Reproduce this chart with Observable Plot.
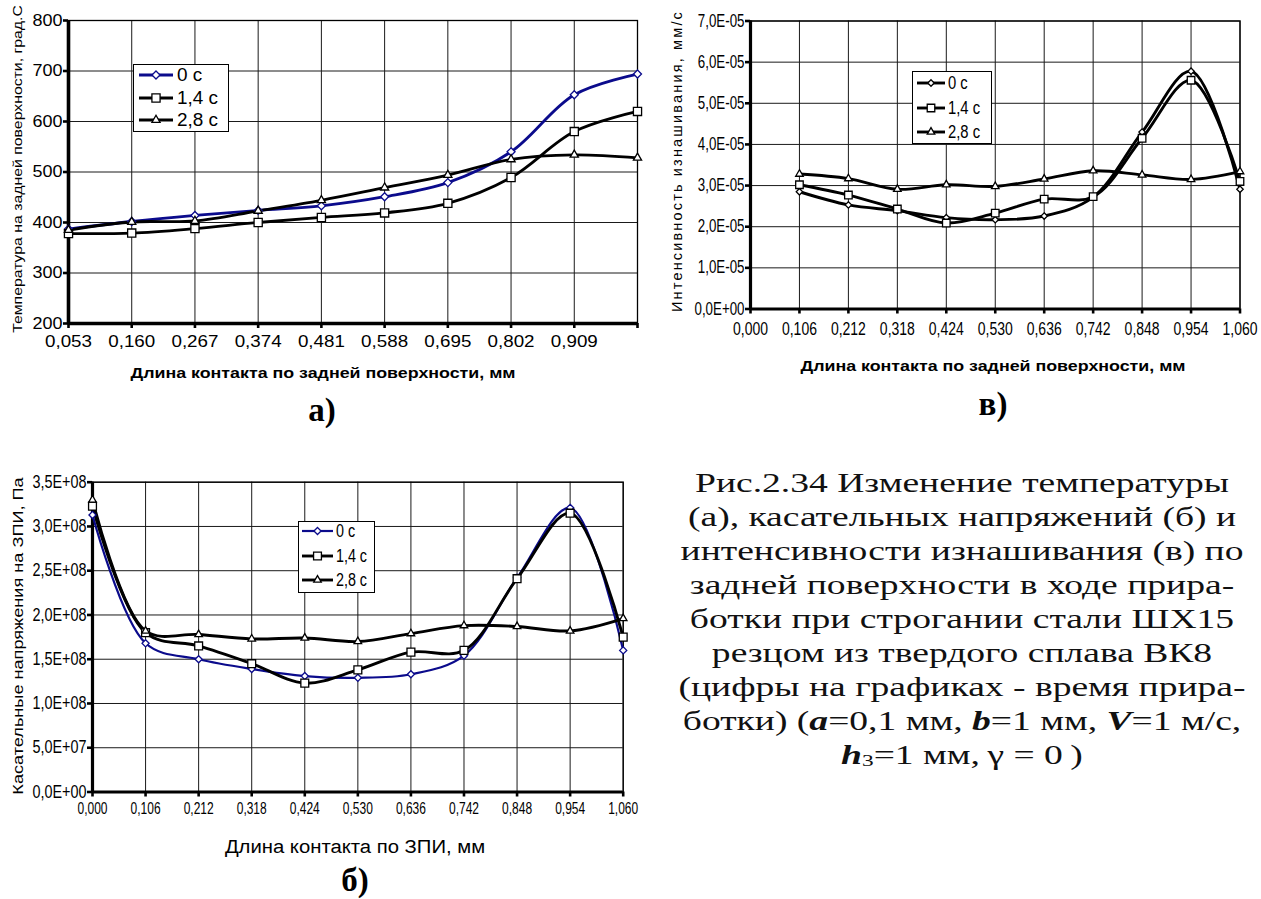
<!DOCTYPE html>
<html><head><meta charset="utf-8">
<script src="https://cdn.jsdelivr.net/npm/d3@7"></script>
<script src="https://cdn.jsdelivr.net/npm/@observablehq/plot@0.6"></script>
<style>
html,body{margin:0;padding:0;background:#fff;overflow:hidden;}
#page{position:relative;width:1261px;height:899px;overflow:hidden;background:#fff;color:#000;}
.abs{position:absolute;white-space:nowrap;line-height:1;}
.plot{position:absolute;overflow:visible;}
.legbox{position:absolute;border:1px solid #000;background:#fff;box-sizing:border-box;}
</style></head><body><div id="page"></div>
<script>
// ---------------- DATA ----------------
const seriesNames = ["0 с", "1,4 с", "2,8 с"];

// (а) temperature on the flank surface
const xCatA = [0.053, 0.160, 0.267, 0.374, 0.481, 0.588, 0.695, 0.802, 0.909, 1.016];
const xTickLabelA = ["0,053","0,160","0,267","0,374","0,481","0,588","0,695","0,802","0,909",""];
const yTickA = [200, 300, 400, 500, 600, 700, 800];
const yTickLabelA = ["200","300","400","500","600","700","800"];
const tempA_0  = [387, 402, 414, 424, 433, 451, 479, 540, 653, 694];
const tempA_14 = [378, 379, 388, 400, 410, 419, 438, 489, 580, 620];
const tempA_28 = [385, 401, 403, 423, 444, 469, 494, 525, 534, 528];

// common x ticks for (в) and (б)
const xTickB = [0.000, 0.106, 0.212, 0.318, 0.424, 0.530, 0.636, 0.742, 0.848, 0.954, 1.060];
const xTickLabelB = ["0,000","0,106","0,212","0,318","0,424","0,530","0,636","0,742","0,848","0,954","1,060"];

// (в) wear intensity
const xPtsV = [0.106, 0.212, 0.318, 0.424, 0.530, 0.636, 0.742, 0.848, 0.954, 1.060];
const yTickV = [0, 1e-5, 2e-5, 3e-5, 4e-5, 5e-5, 6e-5, 7e-5];
const yTickLabelV = ["0,0E+00","1,0E-05","2,0E-05","3,0E-05","4,0E-05","5,0E-05","6,0E-05","7,0E-05"];
const wearV_0  = [2.85e-5, 2.53e-5, 2.39e-5, 2.22e-5, 2.17e-5, 2.26e-5, 2.72e-5, 4.30e-5, 5.78e-5, 2.91e-5];
const wearV_14 = [3.02e-5, 2.77e-5, 2.43e-5, 2.09e-5, 2.33e-5, 2.67e-5, 2.73e-5, 4.15e-5, 5.56e-5, 3.10e-5];
const wearV_28 = [3.28e-5, 3.17e-5, 2.91e-5, 3.02e-5, 2.98e-5, 3.16e-5, 3.36e-5, 3.26e-5, 3.15e-5, 3.34e-5];

// (б) shear stress
const xPtsS = [0.000, 0.106, 0.212, 0.318, 0.424, 0.530, 0.636, 0.742, 0.848, 0.954, 1.060];
const yTickS = [0, 5e7, 1e8, 1.5e8, 2e8, 2.5e8, 3e8, 3.5e8];
const yTickLabelS = ["0,0E+00","5,0E+07","1,0E+08","1,5E+08","2,0E+08","2,5E+08","3,0E+08","3,5E+08"];
const stressS_0  = [3.13e8, 1.68e8, 1.50e8, 1.39e8, 1.31e8, 1.29e8, 1.33e8, 1.54e8, 2.42e8, 3.21e8, 1.60e8];
const stressS_14 = [3.23e8, 1.80e8, 1.65e8, 1.45e8, 1.23e8, 1.38e8, 1.58e8, 1.60e8, 2.41e8, 3.15e8, 1.75e8];
const stressS_28 = [3.30e8, 1.82e8, 1.78e8, 1.73e8, 1.74e8, 1.70e8, 1.79e8, 1.88e8, 1.87e8, 1.82e8, 1.96e8];

const captionLines = [
  "Рис.2.34 Изменение температуры",
  "(а), касательных напряжений (б) и",
  "интенсивности изнашивания (в) по",
  "задней поверхности в ходе прира-",
  "ботки при строгании стали ШХ15",
  "резцом из твердого сплава ВК8",
  "(цифры на графиках - время прира-",
  "ботки) (<b><i>a</i></b>=0,1 мм, <b><i>b</i></b>=1 мм, <b><i>V</i></b>=1 м/с,",
  "<b><i>h</i></b><sub style=\"font-size:0.62em;vertical-align:-0.15em\">3</sub>=1 мм,\u2009γ\u00a0=\u00a00\u2009)"
];

// ---------------- HELPERS ----------------
const page = document.getElementById("page");
const cv = document.createElement("canvas").getContext("2d");
function has(fam) {
  const s = "Рис.2.34 Abcdefg 0,123 Изменение";
  cv.font = `20px "${fam}", monospace`; const a = cv.measureText(s).width;
  cv.font = `20px monospace`; const b = cv.measureText(s).width;
  return Math.abs(a - b) > 0.5;
}
const SANS = '"Liberation Sans", Arial, sans-serif';
const NARROW = has("Liberation Sans Narrow") ? '"Liberation Sans Narrow", sans-serif' : SANS;
const SERIF = has("Liberation Serif") ? '"Liberation Serif", serif'
  : (has("DejaVu Serif Condensed") ? '"DejaVu Serif Condensed", serif' : '"DejaVu Serif", serif');
const BLUE = "#0b0b8c";

function addText(html, o) {
  const d = document.createElement("div");
  d.className = "abs";
  d.innerHTML = html;
  d.style.fontFamily = o.family || SANS;
  d.style.fontSize = o.size + "px";
  d.style.fontWeight = o.weight || "normal";
  d.style.left = o.x + "px";
  d.style.top = o.y + "px";
  if (o.color) d.style.color = o.color;
  page.appendChild(d);
  let k = o.k || 1;
  if (o.letterFit) {
    const n = d.textContent.length;
    d.style.letterSpacing = ((o.width - d.offsetWidth) / n) + "px";
  } else if (o.width) {
    k = o.width / d.offsetWidth;
  }
  d.style.transform = `translate(-50%,-50%)${o.rotate ? " rotate(-90deg)" : ""} scaleX(${k})`;
  return k;
}

// set an explicit size on tick labels, then fit their length to the reference width
function stretch(svg, sel, refWidth, size, family) {
  const ts = [...svg.querySelectorAll(sel)];
  if (!ts.length) return;
  ts.forEach(t => { t.style.fontSize = size + "px"; t.style.fontFamily = family; });
  const ref = ts.find(t => t.textContent.length > 0);
  const k = refWidth / ref.getComputedTextLength();
  ts.forEach(t => {
    const L = t.getComputedTextLength();
    if (L > 0) { t.setAttribute("textLength", (L * k).toFixed(2)); t.setAttribute("lengthAdjust", "spacingAndGlyphs"); }
  });
}

const SYM = {"diamond2": d3.symbolDiamond2, "square2": d3.symbolSquare2, "triangle2": d3.symbolTriangle2};

function drawChart(o) {
  const data = [];
  o.series.forEach((s, i) => s.values.forEach((v, j) => data.push({x: o.x[j], y: v, s: i})));
  const xLab = new Map(o.xTicks.map((t, i) => [t, o.xLabels[i]]));
  const yLab = new Map(o.yTicks.map((t, i) => [t, o.yLabels[i]]));
  const marks = [
    Plot.gridX({ticks: o.xTicks, stroke: "#1a1a1a", strokeOpacity: 1, strokeWidth: 1}),
    Plot.gridY({ticks: o.yTicks, stroke: "#1a1a1a", strokeOpacity: 1, strokeWidth: 1}),
    Plot.frame({stroke: "#000", strokeWidth: 1.3}),
    Plot.ruleX([o.xDomain[0]], {stroke: "#000", strokeWidth: o.axisW}),
    Plot.ruleY([o.yDomain[0]], {stroke: "#000", strokeWidth: o.axisW}),
    Plot.axisX({ticks: o.xTicks, label: null, tickSize: 5, tickPadding: o.xPad, strokeWidth: 2.6,
      tickFormat: d => xLab.get(d), fontSize: o.xFont}),
    Plot.axisY({ticks: o.yTicks, label: null, tickSize: 5, tickPadding: o.yPad, strokeWidth: 2.6,
      tickFormat: d => yLab.get(d), fontSize: o.yFont})
  ];
  o.series.forEach((s, i) => {
    marks.push(Plot.line(data, {filter: d => d.s === i, x: "x", y: "y", stroke: s.color,
      strokeWidth: s.width, curve: "catmull-rom"}));
  });
  o.series.forEach((s, i) => {
    marks.push(Plot.dot(data, {filter: d => d.s === i, x: "x", y: "y", symbol: s.symbol, r: s.r,
      fill: "#fff", stroke: s.color, strokeWidth: 1.3}));
  });
  const svg = Plot.plot({
    width: o.width, height: o.height,
    marginLeft: o.ml, marginRight: o.mr, marginTop: o.mt, marginBottom: o.mb,
    x: {type: "linear", domain: o.xDomain, label: null},
    y: {type: "linear", domain: o.yDomain, label: null},
    style: {background: "transparent", color: "#000", overflow: "visible", fontFamily: o.font},
    marks
  });
  svg.classList.add("plot");
  svg.style.left = o.left + "px";
  svg.style.top = o.top + "px";
  page.appendChild(svg);
  stretch(svg, 'g[aria-label="x-axis tick label"] text', o.xRefW, o.xFont, o.font);
  stretch(svg, 'g[aria-label="y-axis tick label"] text', o.yRefW, o.yFont, o.font);
  return svg;
}

function addLegend(o) {
  const b = document.createElement("div");
  b.className = "legbox";
  Object.assign(b.style, {left: o.x0 + "px", top: o.y0 + "px", width: (o.x1 - o.x0) + "px", height: (o.y1 - o.y0) + "px"});
  page.appendChild(b);
  const texts = [];
  o.series.forEach((s, i) => {
    const cy = o.rows[i];
    const sv = d3.create("svg").attr("width", o.lineLen).attr("height", 16)
      .style("position", "absolute").style("left", o.lineX + "px").style("top", (cy - 8) + "px").style("overflow", "visible");
    sv.append("line").attr("x1", 0).attr("x2", o.lineLen).attr("y1", 8).attr("y2", 8)
      .attr("stroke", s.color).attr("stroke-width", s.width);
    sv.append("path").attr("transform", `translate(${o.lineLen / 2},8)`)
      .attr("d", d3.symbol().type(SYM[s.symbol]).size(Math.PI * s.r * s.r)())
      .attr("fill", "#fff").attr("stroke", s.color).attr("stroke-width", 1.3);
    page.appendChild(sv.node());
    const d = document.createElement("div");
    d.className = "abs";
    d.textContent = seriesNames[i];
    Object.assign(d.style, {fontFamily: o.font, fontSize: o.size + "px", left: o.textX + "px", top: cy + "px"});
    page.appendChild(d);
    texts.push(d);
  });
  const k = o.refW / texts[1].offsetWidth;
  texts.forEach(d => {
    d.style.transformOrigin = "0 50%";
    d.style.transform = `translateY(-50%) scaleX(${k})`;
  });
}

// ---------------- CHART (а) ----------------
const seriesA = [
  {values: tempA_0,  color: BLUE,   width: 2.8, symbol: "diamond2",  r: 3.6},
  {values: tempA_14, color: "#000", width: 2.8, symbol: "square2",   r: 5.2},
  {values: tempA_28, color: "#000", width: 2.8, symbol: "triangle2", r: 3.9}
];
drawChart({
  left: 0, top: 0, width: 650, height: 360, ml: 68, mr: 13, mt: 20, mb: 37,
  x: xCatA, xDomain: [0.053, 1.016], xTicks: xCatA, xLabels: xTickLabelA,
  yDomain: [200, 800], yTicks: yTickA, yLabels: yTickLabelA,
  series: seriesA, axisW: 3.6, xPad: 6, yPad: 1, xFont: 17, yFont: 17, font: SANS,
  xRefW: 47, yRefW: 30
});
addLegend({x0: 133, y0: 64, x1: 229, y1: 132, rows: [75, 97.5, 120], lineX: 139, lineLen: 34,
  textX: 177, size: 18, font: SANS, refW: 41, series: seriesA});
addText("Температура на задней поверхности, град.С", {x: 18, y: 169, size: 13.5, rotate: true, width: 328});
addText("Длина контакта по задней поверхности, мм", {x: 323, y: 373, size: 15.5, weight: "bold", width: 385});
addText("а)", {x: 322, y: 410, size: 33, weight: "bold", family: SERIF, k: 1.0});

// ---------------- CHART (в) ----------------
const seriesV = [
  {values: wearV_0,  color: "#000", width: 2.9, symbol: "diamond2",  r: 2.9},
  {values: wearV_14, color: "#000", width: 2.9, symbol: "square2",   r: 4.8},
  {values: wearV_28, color: "#000", width: 2.9, symbol: "triangle2", r: 3.6}
];
drawChart({
  left: 620, top: 0, width: 641, height: 350, ml: 130, mr: 21.5, mt: 20.5, mb: 41.5,
  x: xPtsV, xDomain: [0, 1.06], xTicks: xTickB, xLabels: xTickLabelB,
  yDomain: [0, 7e-5], yTicks: yTickV, yLabels: yTickLabelV,
  series: seriesV, axisW: 3.2, xPad: 9, yPad: 1, xFont: 17.5, yFont: 17.5, font: NARROW,
  xRefW: 35, yRefW: 50
});
addLegend({x0: 912, y0: 71, x1: 992, y1: 144, rows: [83, 108, 132], lineX: 917, lineLen: 28,
  textX: 948, size: 18, font: NARROW, refW: 32, series: seriesV});
addText("Интенсивность изнашивания, мм/с", {x: 677, y: 161, size: 14.5, rotate: true, width: 302, letterFit: true});
addText("Длина контакта по задней поверхности, мм", {x: 993, y: 366, size: 15.5, weight: "bold", width: 385});
addText("в)", {x: 993, y: 404, size: 33, weight: "bold", family: SERIF, k: 1.0});

// ---------------- CHART (б) ----------------
const seriesS = [
  {values: stressS_0,  color: BLUE,   width: 2.2, symbol: "diamond2",  r: 3.2},
  {values: stressS_14, color: "#000", width: 2.9, symbol: "square2",   r: 5.0},
  {values: stressS_28, color: "#000", width: 2.9, symbol: "triangle2", r: 3.6}
];
drawChart({
  left: 0, top: 440, width: 650, height: 390, ml: 92, mr: 27.3, mt: 41.7, mb: 38.5,
  x: xPtsS, xDomain: [0, 1.06], xTicks: xTickB, xLabels: xTickLabelB,
  yDomain: [0, 3.5e8], yTicks: yTickS, yLabels: yTickLabelS,
  series: seriesS, axisW: 3.2, xPad: 5, yPad: 1, xFont: 17, yFont: 17.5, font: NARROW,
  xRefW: 30, yRefW: 54
});
addLegend({x0: 298, y0: 521, x1: 375, y1: 593, rows: [531, 556, 580], lineX: 302, lineLen: 31,
  textX: 336, size: 18, font: NARROW, refW: 31, series: seriesS});
addText("Касательные напряжения на ЗПИ, Па", {x: 18, y: 636, size: 15.5, rotate: true, width: 317});
addText("Длина контакта по ЗПИ, мм", {x: 355, y: 847, size: 18, width: 260});
addText("б)", {x: 355, y: 880, size: 33, weight: "bold", family: SERIF, k: 1.0});

// ---------------- CAPTION ----------------
let kc = null;
captionLines.forEach((ln, i) => {
  const o = {x: 962, y: 483 + 34 * i, size: 28, family: SERIF, color: "#111"};
  if (kc === null) { kc = addText(ln, Object.assign(o, {width: 534})); }
  else addText(ln, Object.assign(o, {k: kc}));
});
</script></body></html>
